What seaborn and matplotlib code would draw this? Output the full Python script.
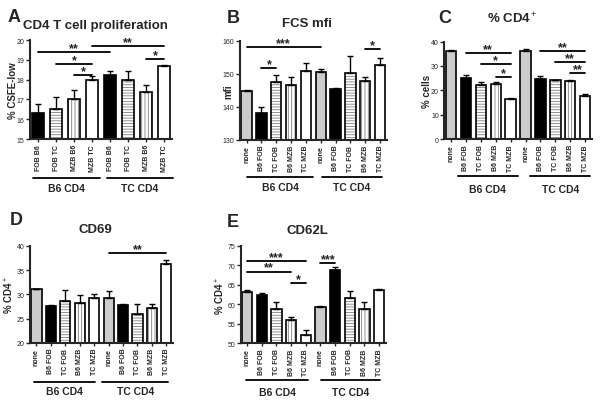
import numpy as np
import pandas as pd
import matplotlib
matplotlib.use('Agg')
import matplotlib.pyplot as plt
import seaborn as sns

# ---- data (mean and SEM) ----
groups = ['B6 CD4', 'TC CD4']

a_labels = ['FOB B6', 'FOB TC', 'MZB B6', 'MZB TC'] * 2
a_kinds = ['black', 'hline', 'vline', 'white'] * 2
a_means = [16.3, 16.5, 17.02, 18.0, 18.22, 17.97, 17.37, 18.7]
a_sems = [0.46, 0.6, 0.46, 0.16, 0.2, 0.45, 0.37, 0.06]
a_sig = [(0, 4, 19.38, '**'), (3, 7, 19.71, '**'), (1, 3, 18.79, '*'),
         (2, 3, 18.25, '*'), (6, 7, 19.04, '*')]

cond_labels = ['none', 'B6 FOB', 'TC FOB', 'B6 MZB', 'TC MZB'] * 2
cond_kinds = ['gray', 'black', 'hline', 'vline', 'white'] * 2

b_means = [144.7, 138.0, 147.4, 146.6, 150.8, 150.5, 145.4, 150.2, 147.7, 152.8]
b_sems = [0.4, 1.9, 2.1, 2.3, 2.4, 1.0, 0.2, 5.1, 1.2, 2.1]
b_sig = [(0, 5, 158.0, '***'), (1, 2, 151.7, '*'), (8, 9, 157.5, '*')]

c_means = [36.2, 25.0, 22.0, 22.8, 16.3, 36.0, 24.6, 24.1, 23.9, 17.8]
c_sems = [0.5, 1.5, 1.6, 0.8, 0.5, 0.8, 1.1, 0.3, 0.4, 0.9]
c_sig = [(1, 4, 35.3, '**'), (2, 4, 30.8, '*'), (3, 4, 25.6, '*'),
         (6, 9, 36.3, '**'), (7, 9, 31.8, '**'), (8, 9, 27.1, '**')]

d_means = [31.1, 27.7, 28.7, 28.2, 29.3, 29.2, 27.9, 26.0, 27.1, 36.3]
d_sems = [0.1, 0.2, 2.3, 1.7, 0.7, 1.4, 0.15, 2.1, 1.0, 0.7]
d_sig = [(5, 9, 38.5, '**')]

e_means = [63.2, 62.4, 58.9, 55.9, 52.0, 59.3, 68.7, 61.5, 58.9, 63.6]
e_sems = [0.6, 0.4, 1.6, 0.9, 1.5, 0.3, 0.8, 1.8, 1.6, 0.3]
e_sig = [(0, 4, 71.2, '***'), (0, 3, 68.4, '**'), (3, 4, 65.4, '*'),
         (5, 6, 70.5, '***')]

fills = {'gray': '#cccccc', 'black': 'black', 'hline': 'white',
         'vline': 'white', 'white': 'white'}
hatches = {'gray': '', 'black': '', 'hline': '------', 'vline': '|||||',
           'white': ''}

sns.set_style('ticks')
plt.rcParams['font.family'] = ['Liberation Sans', 'DejaVu Sans']
plt.rcParams['mathtext.fontset'] = 'custom'
plt.rcParams['mathtext.rm'] = 'Liberation Sans'
plt.rcParams['mathtext.bf'] = 'Liberation Sans:bold'
plt.rcParams['hatch.linewidth'] = 0.6


def draw_panel(ax, labels, kinds, means, sems, sig, ylim, yticks, ylabel,
               title, title_pad, ylab_x, spans, line_y, text_y):
    n = len(means)
    df = pd.DataFrame({'pos': [str(i) for i in range(n)], 'value': means})
    sns.barplot(data=df, x='pos', y='value', hue='pos',
                palette=[fills[k] for k in kinds], legend=False,
                width=0.7, edgecolor='black', linewidth=1.2,
                errorbar=None, saturation=1, ax=ax)
    for p, k in zip(ax.patches, kinds):
        p.set_hatch(hatches[k])
        # grey hatch lines, black outline
        p._hatch_color = (0.5, 0.5, 0.5, 1.0)

    # upward-only SEM bars
    ax.errorbar(range(n), means, yerr=[np.zeros(n), sems], fmt='none',
                ecolor='black', elinewidth=1, capsize=2.5, capthick=1,
                zorder=5)

    for i, j, y, stars in sig:
        ax.plot([i, j], [y, y], color='black', lw=1.3, clip_on=False)
        ax.annotate(stars, ((i + j) / 2, y), xytext=(0, -1.5),
                    textcoords='offset points', ha='center', va='bottom',
                    fontsize=9, fontweight='bold', annotation_clip=False)

    ax.set_ylim(*ylim)
    ax.set_yticks(yticks)
    ax.set_xlim(-0.45, n - 0.55)
    ax.set_xticks(range(n))
    ax.set_xticklabels(labels, rotation=90, fontsize=5, fontweight='bold')
    ax.tick_params(axis='y', labelsize=5, length=3, width=1, pad=1)
    ax.tick_params(axis='x', length=2, width=1, pad=1.5)
    ax.set_xlabel('')
    ax.set_ylabel(ylabel, fontsize=7, fontweight='bold')
    ax.yaxis.set_label_coords(ylab_x, 0.5)
    ax.set_title(title, fontsize=9.5, fontweight='bold', pad=title_pad,
                 x=0.46)
    for s in ['left', 'bottom']:
        ax.spines[s].set_linewidth(1.5)
    sns.despine(ax=ax)

    tr = ax.get_xaxis_transform()
    for (x0, x1), name in zip(spans, groups):
        ax.plot([x0, x1], [line_y, line_y], transform=tr, color='black',
                lw=1.3, clip_on=False)
        ax.text((x0 + x1) / 2, text_y, name, transform=tr, ha='center',
                va='center', fontsize=7.5, fontweight='bold')


fig = plt.figure(figsize=(6, 4.06), dpi=100)

ax_a = fig.add_axes([0.05, 0.655, 0.237, 0.244])
ax_b = fig.add_axes([0.40, 0.653, 0.2445, 0.244])
ax_c = fig.add_axes([0.7405, 0.655, 0.246, 0.24])
ax_d = fig.add_axes([0.05, 0.153, 0.238, 0.239])
ax_e = fig.add_axes([0.401, 0.152, 0.2417, 0.24])

draw_panel(ax_a, a_labels, a_kinds, a_means, a_sems, a_sig, (15, 20),
           range(15, 21), '% CSFE-low', 'CD4 T cell proliferation', 8.4,
           -0.085, [(-0.28, 3.43), (3.82, 7.47)], -0.394, -0.495)
draw_panel(ax_b, cond_labels, cond_kinds, b_means, b_sems, b_sig,
           (130, 160), [130, 140, 150, 160], 'mfi', 'FCS mfi', 10.8,
           -0.046, [(0.0, 4.5), (5.1, 9.1)], -0.37, -0.48)
draw_panel(ax_c, cond_labels, cond_kinds, c_means, c_sems, c_sig,
           (0, 40), [0, 10, 20, 30, 40], '% cells', '% CD4$^+$', 13.7,
           -0.085, [(0.45, 4.5), (5.33, 9.33)], -0.38, -0.51)
draw_panel(ax_d, cond_labels, cond_kinds, d_means, d_sems, d_sig,
           (20, 40), [20, 25, 30, 35, 40], '% CD4$^+$', 'CD69', 10.0,
           -0.095, [(-0.17, 4.08), (4.55, 9.15)], -0.40, -0.50)
draw_panel(ax_e, cond_labels, cond_kinds, e_means, e_sems, e_sig,
           (50, 75), [50, 55, 60, 65, 70, 75], '% CD4$^+$', 'CD62L', 9.6,
           -0.095, [(-0.05, 4.14), (5.03, 9.05)], -0.38, -0.50)

for letter, (px, py) in zip('ABCDE', [(8, 22), (227, 23), (438, 23),
                                      (10, 225), (227, 227)]):
    fig.text(px / 600, 1 - py / 406, letter, fontsize=13, fontweight='bold',
             ha='left', va='baseline')

fig.savefig('out.png', dpi=100)
